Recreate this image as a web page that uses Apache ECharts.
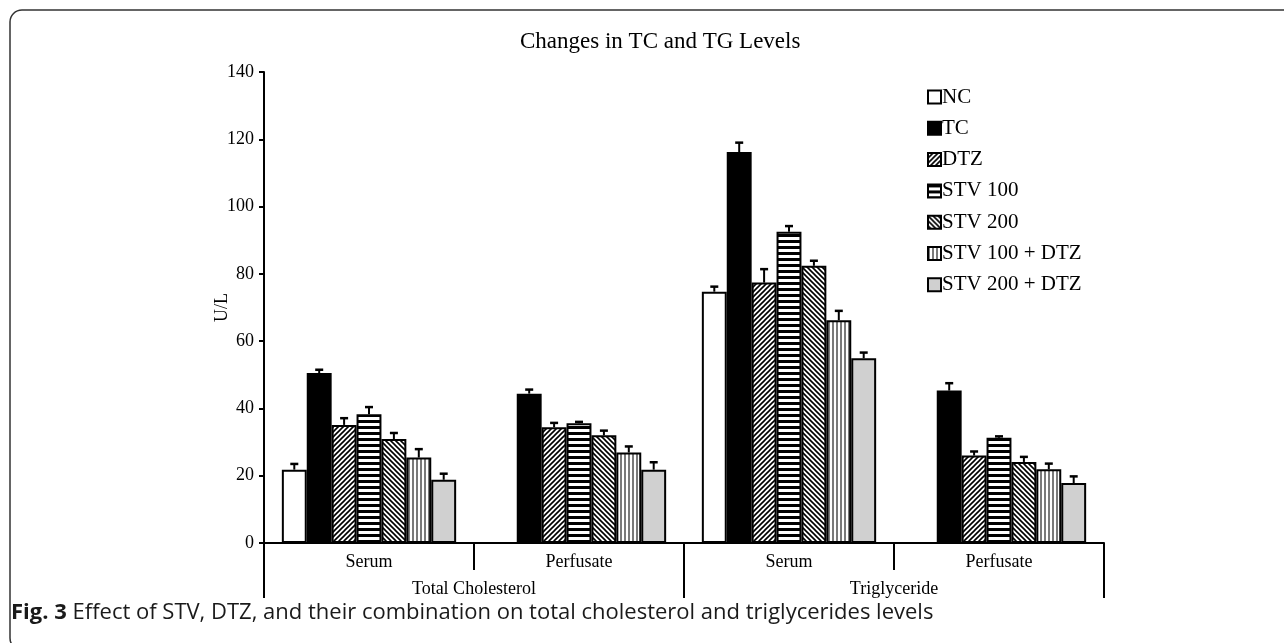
<!DOCTYPE html>
<html>
<head>
<meta charset="utf-8">
<script src="https://cdn.jsdelivr.net/npm/echarts@6/dist/echarts.min.js"></script>
<style>
html,body{margin:0;padding:0;background:#fff;}
#chart{width:1284px;height:643px;}
</style>
</head>
<body>
<div id="chart"></div>
<script>
// categories
var groups = ['Serum', 'Perfusate', 'Serum', 'Perfusate'];
var outerGroups = ['Total Cholesterol', 'Triglyceride'];
var seriesNames = ['NC', 'TC', 'DTZ', 'STV 100', 'STV 200', 'STV 100 + DTZ', 'STV 200 + DTZ'];
var yTicks = {min: 0, max: 140, interval: 20};

// bar heights (U/L)
var valNC = [21.8, '-', 74.7, '-'];
var valTC = [50.5, 44.4, 116.2, 45.3];
var valDTZ = [35.1, 34.4, 77.4, 26.0];
var valSTV100 = [38.3, 35.6, 92.5, 31.3];
var valSTV200 = [30.9, 32.0, 82.4, 24.1];
var valSTV100DTZ = [25.4, 26.9, 66.2, 21.9];
var valSTV200DTZ = [18.8, 21.8, 54.9, 17.8];

// upper error (U/L)
var errNC = [1.7, '-', 1.5, '-'];
var errTC = [1.0, 1.2, 2.8, 2.2];
var errDTZ = [2.0, 1.3, 4.0, 1.2];
var errSTV100 = [2.1, 0.4, 1.7, 0.4];
var errSTV200 = [1.8, 1.4, 1.5, 1.5];
var errSTV100DTZ = [2.5, 1.8, 2.8, 1.7];
var errSTV200DTZ = [1.8, 2.2, 1.7, 2.0];

var allVals = [valNC, valTC, valDTZ, valSTV100, valSTV200, valSTV100DTZ, valSTV200DTZ];
var allErrs = [errNC, errTC, errDTZ, errSTV100, errSTV200, errSTV100DTZ, errSTV200DTZ];

var SERIF = "'Liberation Serif', 'DejaVu Serif', serif";
var SANS = "'Open Sans', 'Noto Sans', sans-serif";
var GAP = 0.17;

// fill patterns like the excel ones
function makePattern(kind) {
	var c = document.createElement('canvas');
	var ctx = c.getContext('2d');
	if (kind == 'fwd' || kind == 'back') {
		c.width = 5; c.height = 5;
		ctx.fillStyle = '#fff'; ctx.fillRect(0, 0, 5, 5);
		ctx.strokeStyle = '#000'; ctx.lineWidth = 1.6;
		ctx.beginPath();
		if (kind == 'fwd') {
			ctx.moveTo(-1, 6); ctx.lineTo(6, -1);
			ctx.moveTo(-1, 1); ctx.lineTo(1, -1);
			ctx.moveTo(4, 6); ctx.lineTo(6, 4);
		} else {
			ctx.moveTo(-1, -1); ctx.lineTo(6, 6);
			ctx.moveTo(4, -1); ctx.lineTo(6, 1);
			ctx.moveTo(-1, 4); ctx.lineTo(1, 6);
		}
		ctx.stroke();
	} else if (kind == 'h') {
		c.width = 4; c.height = 6;
		ctx.fillStyle = '#fff'; ctx.fillRect(0, 0, 4, 6);
		ctx.fillStyle = '#000'; ctx.fillRect(0, 0, 4, 3);
	} else if (kind == 'v') {
		c.width = 4; c.height = 4;
		ctx.fillStyle = '#fff'; ctx.fillRect(0, 0, 4, 4);
		ctx.fillStyle = '#7a7a7a'; ctx.fillRect(0, 0, 2, 4);
	}
	return {image: c, repeat: 'repeat'};
}

var fills = ['#ffffff', '#000000', makePattern('fwd'), makePattern('h'), makePattern('back'), makePattern('v'), '#d0d0d0'];

function errRender(si) {
	return function(params, api) {
		var cat = api.value(0), v = api.value(1), e = api.value(2);
		var base = api.coord([cat, v]);
		var top = api.coord([cat, v + e]);
		var catW = api.size([1, 0])[0];
		var inner = catW * (1 - GAP);
		var bw = inner / 7;
		var x = base[0] - inner / 2 + bw * (si + 0.5);
		return {
			type: 'group',
			children: [
				{type: 'line', shape: {x1: x, y1: base[1], x2: x, y2: top[1]}, style: {stroke: '#000', lineWidth: 2}},
				{type: 'line', shape: {x1: x - 4, y1: top[1], x2: x + 4, y2: top[1]}, style: {stroke: '#000', lineWidth: 2.5}}
			]
		};
	};
}

var series = [];
for (var i = 0; i < seriesNames.length; i++) {
	series.push({
		name: seriesNames[i],
		type: 'bar',
		data: allVals[i],
		barGap: 0,
		barCategoryGap: (GAP * 100) + '%',
		itemStyle: {color: fills[i], borderColor: '#000', borderWidth: 2},
		emphasis: {disabled: true}
	});
}
for (var i = 0; i < seriesNames.length; i++) {
	var d = [];
	for (var k = 0; k < groups.length; k++) {
		if (allVals[i][k] !== '-') d.push([k, allVals[i][k], allErrs[i][k]]);
	}
	series.push({
		name: 'err' + i,
		type: 'custom',
		renderItem: errRender(i),
		data: d,
		z: 5,
		silent: true
	});
}

var myChart = echarts.init(document.getElementById('chart'));
var option = {
	backgroundColor: '#fff',
	animation: false,
	title: {
		text: 'Changes in TC and TG Levels',
		left: 515,
		top: 25,
		textStyle: {fontFamily: SERIF, fontSize: 23, fontWeight: 'normal', color: '#000'}
	},
	legend: {
		orient: 'vertical',
		left: 922,
		top: 81,
		icon: 'rect',
		itemWidth: 13,
		itemHeight: 13,
		itemGap: 9.3,
		data: seriesNames,
		selectedMode: false,
		textStyle: {fontFamily: SERIF, fontSize: 21, lineHeight: 22, color: '#000', padding: [0, 0, 0, -4]}
	},
	grid: [
		{left: 264, right: 180, top: 72, bottom: 100},
		{left: 264, right: 180, top: 72, bottom: 100}
	],
	xAxis: [
		{
			type: 'category',
			gridIndex: 0,
			data: groups,
			axisLine: {lineStyle: {color: '#000', width: 2}},
			axisTick: {show: true, length: 27, interval: 0, lineStyle: {color: '#000', width: 2}},
			axisLabel: {fontFamily: SERIF, fontSize: 18, color: '#000', margin: 10, interval: 0}
		},
		{
			type: 'category',
			gridIndex: 1,
			data: outerGroups,
			axisLine: {show: false},
			axisTick: {show: true, length: 55, interval: 0, lineStyle: {color: '#000', width: 2}},
			axisLabel: {fontFamily: SERIF, fontSize: 18, color: '#000', margin: 37, interval: 0}
		}
	],
	yAxis: [
		{
			type: 'value',
			gridIndex: 0,
			min: yTicks.min,
			max: yTicks.max,
			interval: yTicks.interval,
			name: 'U/L',
			nameLocation: 'middle',
			nameGap: 33,
			nameMoveOverlap: false,
			nameTextStyle: {fontFamily: SERIF, fontSize: 18, color: '#000'},
			axisLine: {show: true, lineStyle: {color: '#000', width: 2}},
			axisTick: {show: true, length: 5, lineStyle: {color: '#000', width: 2}},
			axisLabel: {fontFamily: SERIF, fontSize: 18, color: '#000', margin: 10},
			splitLine: {show: false}
		},
		{
			type: 'value',
			gridIndex: 1,
			min: yTicks.min,
			max: yTicks.max,
			show: false
		}
	],
	graphic: [
		{
			type: 'rect',
			shape: {x: 10, y: 10, width: 1300, height: 640, r: 12},
			style: {fill: 'none', stroke: '#333', lineWidth: 1.5},
			silent: true
		},
		{
			type: 'text',
			left: 11,
			top: 602,
			style: {
				text: '{b|Fig. 3} Effect of STV, DTZ, and their combination on total cholesterol and triglycerides levels',
				rich: {
					b: {fontFamily: SANS, fontSize: 22, fontWeight: 'bold', fill: '#1a1a1a'}
				},
				fontFamily: SANS,
				fontSize: 22,
				fill: '#1a1a1a'
			}
		}
	],
	series: series
};
myChart.setOption(option);
</script>
</body>
</html>
